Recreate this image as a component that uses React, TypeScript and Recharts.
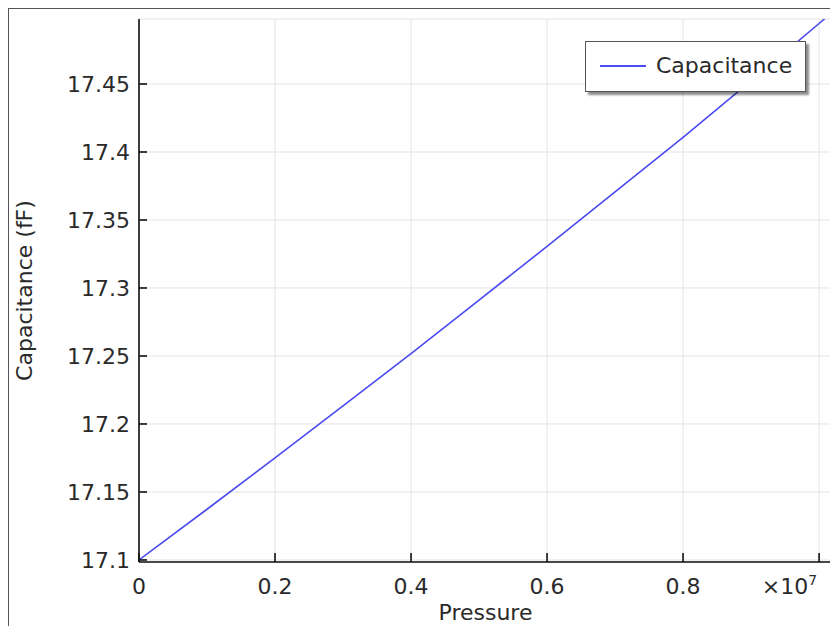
import React from 'react';
import { LineChart, Line, XAxis, YAxis, CartesianGrid, Legend } from 'recharts';

const pressures = [0, 1e6, 2e6, 3e6, 4e6, 5e6, 6e6, 7e6, 8e6, 9e6, 1e7, 1.1e7];
const capacitance = [17.1, 17.1373, 17.175, 17.2133, 17.2518, 17.2911, 17.3306, 17.3706, 17.4108, 17.4523, 17.4945, 17.5373];
const xTicks = [0, 2e6, 4e6, 6e6, 8e6, 1e7];
const xTickLabels = ['0', '0.2', '0.4', '0.6', '0.8', ''];
const yTicks = [17.1, 17.15, 17.2, 17.25, 17.3, 17.35, 17.4, 17.45];
const yTickLabels = ['17.1', '17.15', '17.2', '17.25', '17.3', '17.35', '17.4', '17.45'];
const seriesName = 'Capacitance';
const xTitle = 'Pressure';
const yTitle = 'Capacitance (fF)';

const data = pressures.map((p, i) => ({ pressure: p, capacitance: capacitance[i] }));

const FONT = 'DejaVu Sans, sans-serif';
const TEXT = '#2a2a2a';
const LINE = '#4a4af0';

const XTick = (props: any) => {
  const { x, y, payload } = props;
  const idx = xTicks.indexOf(payload.value);
  if (payload.value === 1e7) {
    return (
      <text x={x - 2} y={y} dy={17} textAnchor="end" fontFamily={FONT} fontSize={22} fill={TEXT}>
        ×10<tspan dy={-9} fontSize={14}>7</tspan>
      </text>
    );
  }
  return (
    <text x={x} y={y} dy={17} textAnchor="middle" fontFamily={FONT} fontSize={22} fill={TEXT}>
      {idx >= 0 ? xTickLabels[idx] : ''}
    </text>
  );
};

const YTick = (props: any) => {
  const { x, y, payload } = props;
  const idx = yTicks.findIndex((t) => Math.abs(t - payload.value) < 1e-9);
  return (
    <text x={x} y={y} dy={8} textAnchor="end" fontFamily={FONT} fontSize={22} fill={TEXT}>
      {idx >= 0 ? yTickLabels[idx] : ''}
    </text>
  );
};

const LegendBox = () => (
  <div
    style={{
      position: 'absolute',
      left: 585,
      top: 41,
      width: 221,
      height: 51,
      border: '1.5px solid #555',
      boxShadow: '3px 3px 2px rgba(0,0,0,0.45)',
      background: '#fff',
      boxSizing: 'border-box',
      fontFamily: FONT,
      fontSize: 22,
      color: TEXT,
    }}
  >
    <div style={{ position: 'absolute', left: 14, top: 23, width: 46, height: 2, background: LINE }} />
    <div style={{ position: 'absolute', left: 70, top: 11, lineHeight: '26px', whiteSpace: 'nowrap' }}>{seriesName}</div>
  </div>
);

export default function App() {
  return (
    <div style={{ position: 'absolute', left: 0, top: 0, width: 830, height: 626, overflow: 'hidden', background: '#fff' }}>
      <div style={{ position: 'absolute', left: 8, top: 8, width: 900, height: 700, border: '1px solid #555' }} />
      <div style={{ position: 'absolute', left: 0, top: 0 }}>
        <LineChart width={832} height={626} data={data} margin={{ top: 19, right: 0, bottom: 0, left: 0 }}>
          <CartesianGrid stroke="#e3e3e3" strokeWidth={1} />
          <XAxis
            dataKey="pressure"
            type="number"
            domain={[0, 1.019e7]}
            allowDataOverflow
            ticks={xTicks}
            interval={0}
            height={64}
            tickSize={-9}
            tickMargin={24}
            tick={<XTick />}
            axisLine={{ stroke: '#111', strokeWidth: 1.6 }}
            tickLine={{ stroke: '#111', strokeWidth: 1.6 }}
            label={{ value: xTitle, position: 'insideBottom', offset: 6, fontFamily: FONT, fontSize: 22, fill: TEXT }}
          />
          <XAxis
            xAxisId="top"
            dataKey="pressure"
            type="number"
            orientation="top"
            domain={[0, 1.019e7]}
            allowDataOverflow
            ticks={xTicks}
            interval={0}
            height={0}
            tickSize={-9}
            tick={false}
            axisLine={{ stroke: '#111', strokeWidth: 1.6 }}
            tickLine={{ stroke: '#111', strokeWidth: 1.6 }}
          />
          <YAxis
            type="number"
            domain={[17.0985, 17.4978]}
            allowDataOverflow
            ticks={yTicks}
            interval={0}
            width={139}
            tickSize={-8}
            tickMargin={17}
            tick={<YTick />}
            axisLine={{ stroke: '#111', strokeWidth: 1.6 }}
            tickLine={{ stroke: '#111', strokeWidth: 1.6 }}
            label={(p: any) => {
              const vb = p.viewBox || { x: 0, y: 19, height: 543 };
              const cx = vb.x + 24;
              const cy = vb.y + vb.height / 2;
              return (
                <text
                  x={cx}
                  y={cy}
                  transform={`rotate(-90 ${cx} ${cy})`}
                  textAnchor="middle"
                  dominantBaseline="central"
                  fontFamily={FONT}
                  fontSize={22}
                  fill={TEXT}
                >
                  {yTitle}
                </text>
              );
            }}
          />
          <YAxis
            yAxisId="right"
            type="number"
            orientation="right"
            domain={[17.0985, 17.4978]}
            allowDataOverflow
            ticks={yTicks}
            interval={0}
            width={0}
            tickSize={-8}
            tick={false}
            axisLine={{ stroke: '#111', strokeWidth: 1.6 }}
            tickLine={{ stroke: '#111', strokeWidth: 1.6 }}
          />
          <Legend content={() => <LegendBox />} wrapperStyle={{ position: 'absolute', left: 0, top: 0, width: 0, height: 0 }} />
          <Line
            type="linear"
            dataKey="capacitance"
            name={seriesName}
            stroke={LINE}
            strokeWidth={1.6}
            dot={false}
            isAnimationActive={false}
          />
        </LineChart>
      </div>
    </div>
  );
}
